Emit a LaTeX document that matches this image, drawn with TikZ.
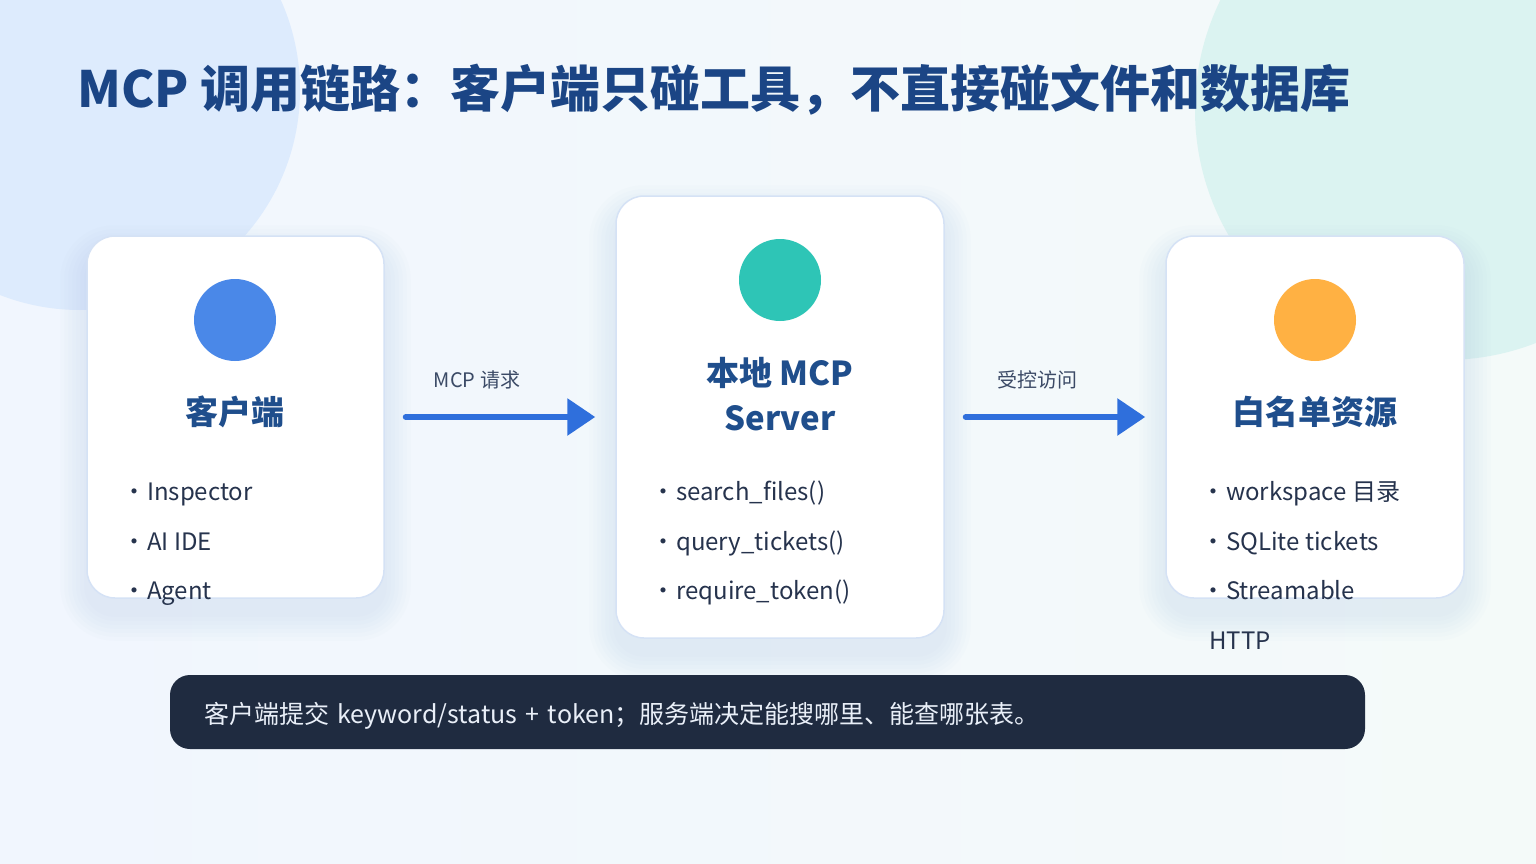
\documentclass[tikz,border=0pt]{standalone}
\usepackage{fontspec}
\setmainfont{Noto Sans CJK SC}
\usetikzlibrary{positioning,arrows.meta,calc}
\definecolor{bgleft}{HTML}{F1F6FE}
\definecolor{bgright}{HTML}{F4FAF9}
\definecolor{decoblue}{HTML}{DDEBFD}
\definecolor{decoteal}{HTML}{DBF3F1}
\definecolor{headblue}{HTML}{1B4585}
\definecolor{cardtitle}{HTML}{1F4E8C}
\definecolor{itemtext}{HTML}{26334D}
\definecolor{labeltext}{HTML}{3B4A66}
\definecolor{cardline}{HTML}{D5E2F5}
\definecolor{shadowcol}{HTML}{7F9CC8}
\definecolor{arrowblue}{HTML}{2F6FDC}
\definecolor{dotblue}{HTML}{4A88E8}
\definecolor{dotteal}{HTML}{2EC5B6}
\definecolor{dotorange}{HTML}{FFB143}
\definecolor{barfill}{HTML}{1F2B40}
\definecolor{bartext}{HTML}{E9EFF8}
\pgfdeclarelayer{bg}
\pgfdeclarelayer{shade}
\pgfsetlayers{bg,shade,main}

\begin{document}
\begin{tikzpicture}[x=1pt, y=-1pt,
    card/.style={draw=cardline, line width=1.5pt, fill=white, rounded corners=28pt, inner sep=0pt},
    dot/.style={circle, minimum size=82pt, inner sep=0pt},
    cardtitle/.style={font=\fontsize{33}{40}\selectfont\bfseries, text=cardtitle, inner sep=0pt, anchor=base},
    item/.style={font=\fontsize{24}{30}\selectfont, text=itemtext, inner sep=0pt, anchor=base west},
    flow/.style={draw=arrowblue, line width=6pt, line cap=round, -{Triangle[length=28pt, width=36pt]},
                 shorten <=21pt, shorten >=20pt},
    flowlabel/.style={font=\fontsize{20}{24}\selectfont, text=labeltext, inner sep=0pt, yshift=37pt},
    bar/.style={fill=barfill, rounded corners=20pt, minimum width=1195pt, minimum height=74pt,
                text width=1127pt, inner xsep=34pt, align=left, text=bartext,
                text height=19pt, text depth=4pt, font=\fontsize{25}{30}\selectfont}
  ]
    \useasboundingbox (0,0) rectangle (1536,864);
    \begin{pgfonlayer}{bg}
      \fill[left color=bgleft, right color=bgright] (0,0) rectangle (1536,864);
      % Background circles
      \clip (0,0) rectangle (1536,864);
      \fill[decoblue] (80,90) circle (220pt);
      \fill[decoteal] (1445,110) circle (250pt);
    \end{pgfonlayer}

    % Title
    \node[font=\fontsize{50}{60}\selectfont\bfseries, text=headblue, inner sep=0pt, anchor=base west]
      (title) at (77,108) {MCP 调用链路：客户端只碰工具，不直接碰文件和数据库};

    % Left: client
    \node[card, minimum width=297pt, minimum height=362pt] (client) at (235.5,417) {};
    \node[dot, fill=dotblue] (clientdot) at (235,320) {};
    \node[cardtitle] (clienttitle) at (235,424) {客户端};
    \foreach \txt [count=\i] in {Inspector, AI IDE, Agent}
      \node[item] (client-\i) at (122,451+49.5*\i) {•\kern1pt\txt};

    % Middle: server
    \node[card, minimum width=328pt, minimum height=442pt] (server) at (780,417) {};
    \node[dot, fill=dotteal] (serverdot) at (780,280) {};
    \node[cardtitle] (servertitle) at (780,385) {本地 MCP};
    \node[cardtitle] (servertitle2) at (780,430) {Server};
    \foreach \txt [count=\i] in {search\_files(), query\_tickets(), require\_token()}
      \node[item] (server-\i) at (651,451+49.5*\i) {•\kern1pt\txt};

    % Right: resources
    \node[card, minimum width=298pt, minimum height=362pt] (res) at (1315,417) {};
    \node[dot, fill=dotorange] (resdot) at (1315,320) {};
    \node[cardtitle] (restitle) at (1315,424) {白名单资源};
    \foreach \txt [count=\i] in {workspace 目录, SQLite tickets, Streamable}
      \node[item] (res-\i) at (1201,451+49.5*\i) {•\kern1pt\txt};
    \node[item] (res-4) at (1209,649) {HTTP};

    % Soft shadows under the cards
    \begin{pgfonlayer}{shade}
      \foreach \c in {client,server,res}
        \foreach \s in {2,6,...,26}
          \fill[shadowcol, opacity=0.02, rounded corners=28pt+\s pt]
            ($(\c.north west)+(-\s,16-\s)$) rectangle ($(\c.south east)+(\s,16+\s)$);
    \end{pgfonlayer}

    % Connectors
    \draw[flow] (client.east) -- node[flowlabel, pos=0.4] (reqlabel) {MCP 请求} (server.west);
    \draw[flow] (server.east) -- node[flowlabel, pos=0.42] (acclabel) {受控访问} (res.west);

    % Bottom note
    \node[bar] (note) at (767.5,712) {\raisebox{-4pt}{客户端提交 keyword/status + token；服务端决定能搜哪里、能查哪张表。}};
  \end{tikzpicture}
\end{document}
